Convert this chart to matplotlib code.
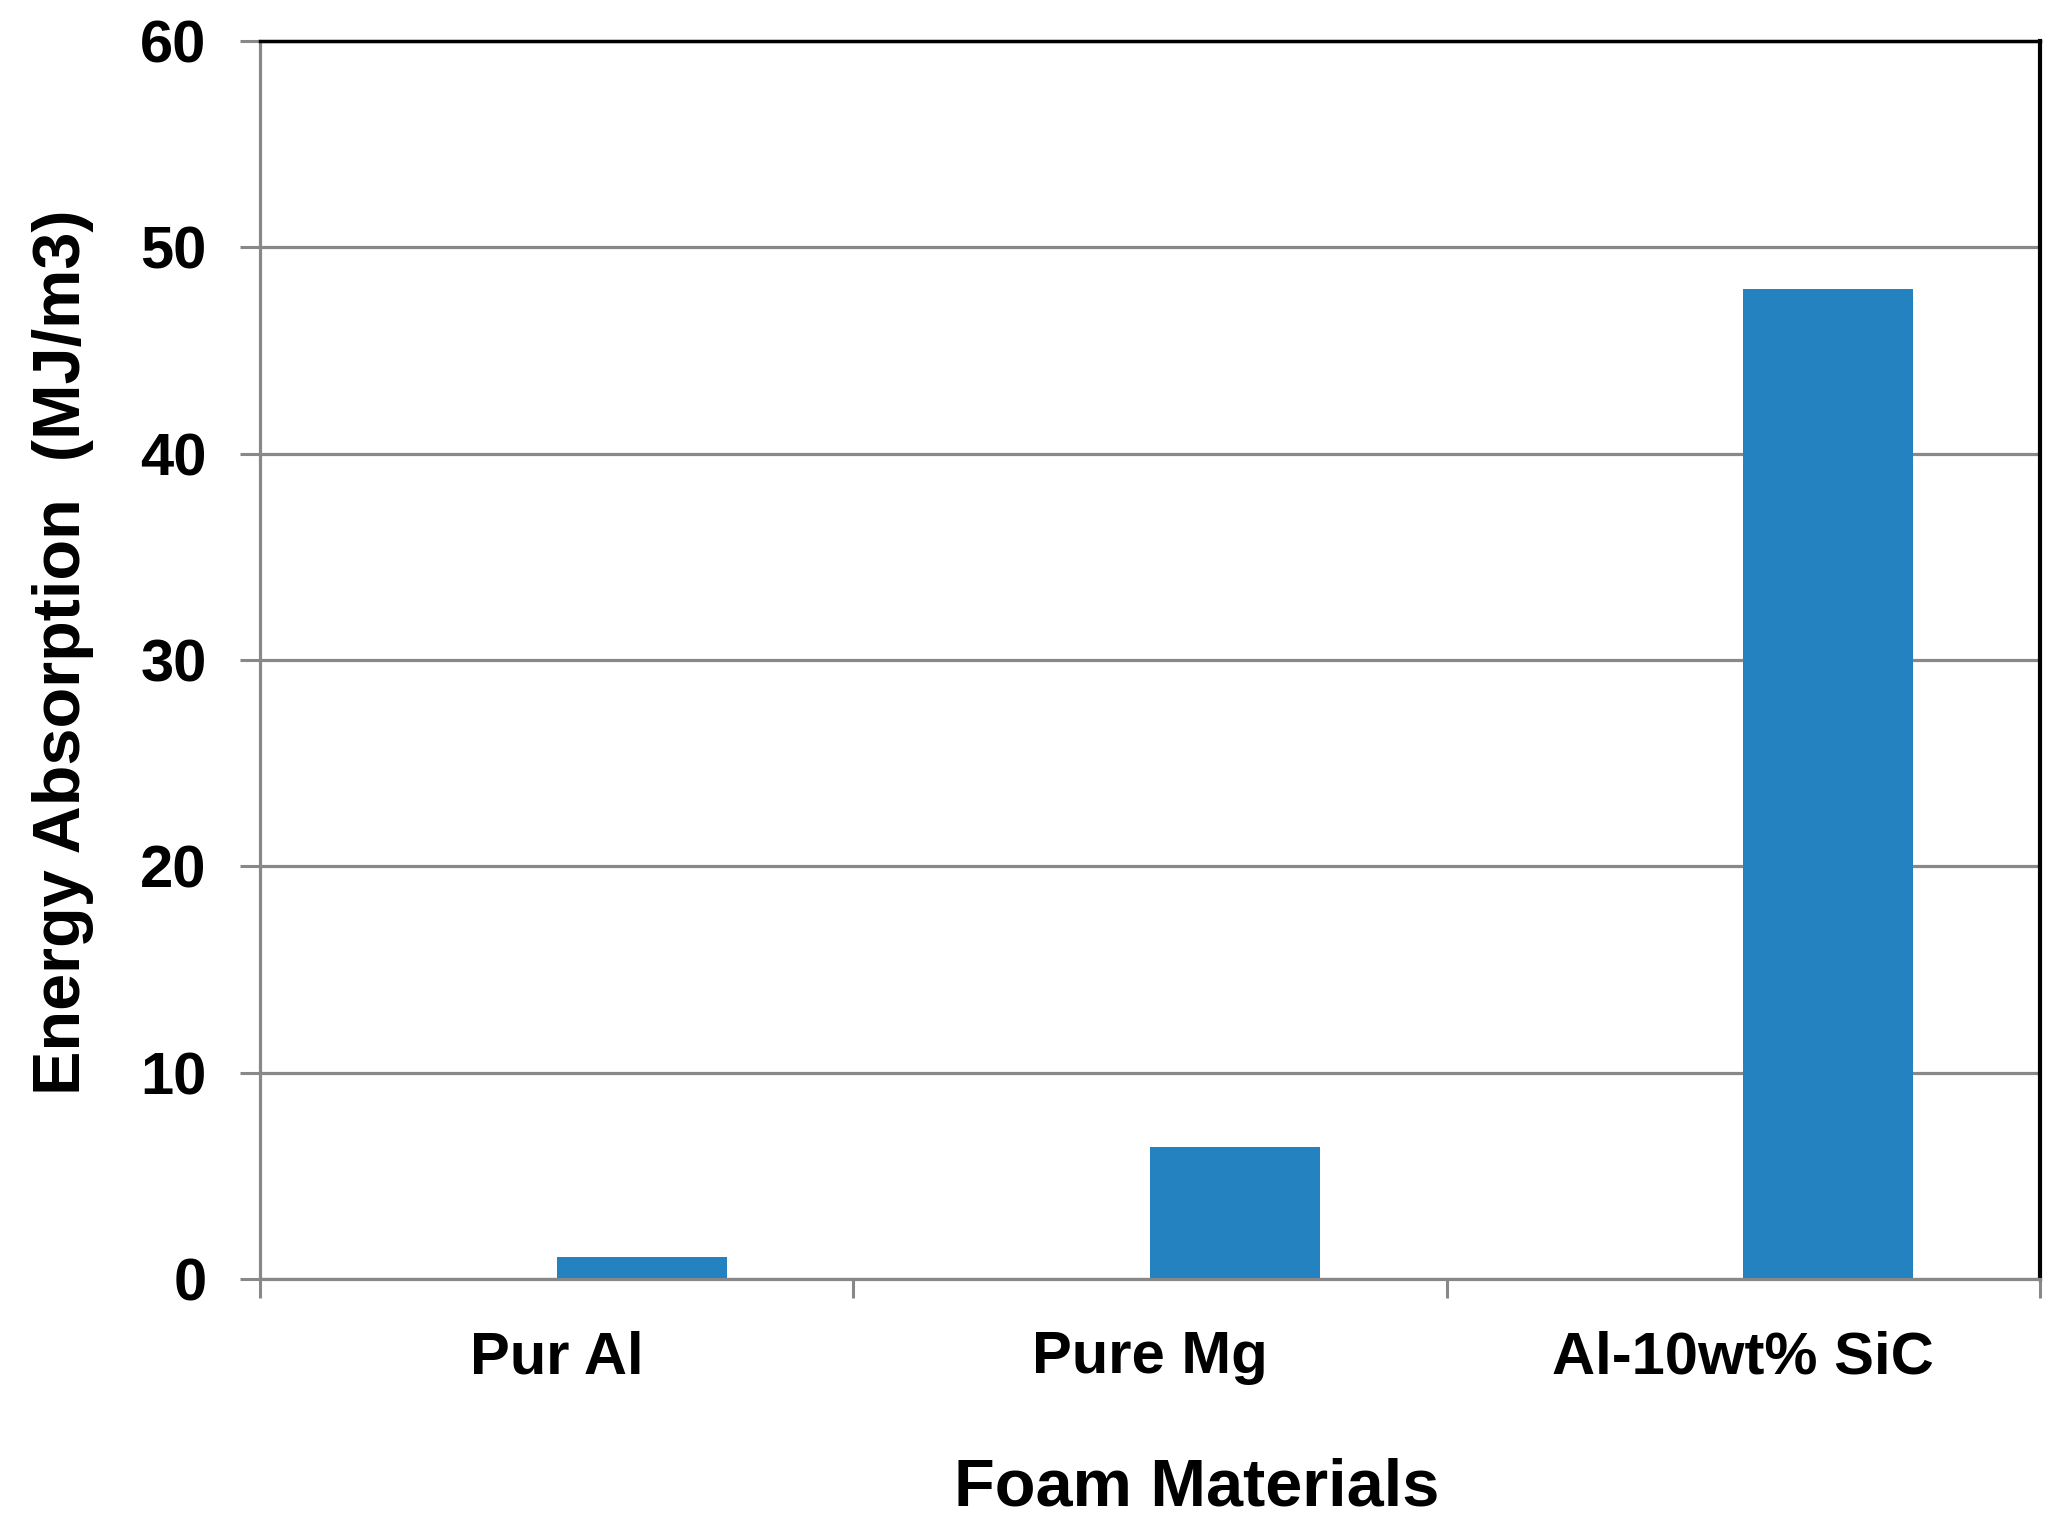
import matplotlib
matplotlib.use("Agg")
import matplotlib.pyplot as plt
import numpy as np

materiales = ["Pur Al", "Pure Mg", "Al-10wt% SiC"]
energia = [1.05, 6.4, 48.0]
y_ticks = [0, 10, 20, 30, 40, 50, 60]

plt.rcParams["font.family"] = ["Liberation Sans", "DejaVu Sans"]
plt.rcParams["font.weight"] = "bold"

gris = "#888888"
azul = "#2482C0"

fig = plt.figure(figsize=(20.63, 15.33), dpi=100)
ax = fig.add_axes([260 / 2063, 1 - 1279 / 1533, 1780 / 2063, 1238 / 1533])

x = np.arange(len(materiales))
# barra desplazada a la derecha del centro de la categoria (estilo Excel)
ax.bar(x, energia, width=0.2866, align="edge", color=azul, zorder=3)

ax.set_xlim(-0.5, len(materiales) - 0.5)
ax.set_ylim(0, 60)
ax.set_yticks(y_ticks)
ax.set_yticklabels([str(v) for v in y_ticks], fontsize=43, fontweight="bold")

# ticks mayores en los bordes de categoria, etiquetas en el centro
ax.set_xticks(np.arange(len(materiales) + 1) - 0.5)
ax.set_xticklabels([])
ax.set_xticks(x, minor=True)
ax.set_xticklabels(materiales, minor=True, fontsize=43, fontweight="bold")
ax.tick_params(axis="x", which="major", direction="out", length=13.7, width=2.2, color=gris)
ax.tick_params(axis="x", which="minor", length=0, pad=37)
ax.tick_params(axis="y", direction="out", length=14.4, width=2.2, color=gris, pad=24)

ax.grid(axis="y", color=gris, linewidth=2.3, zorder=1)
for lado in ("left", "bottom"):
    ax.spines[lado].set_color(gris)
    ax.spines[lado].set_linewidth(2.3)
ax.spines["bottom"].set_zorder(4)
ax.spines["top"].set_color("black")
ax.spines["top"].set_linewidth(2.5)
ax.spines["right"].set_color("black")
ax.spines["right"].set_linewidth(3)

ax.set_xlabel("Foam Materials", fontsize=48, fontweight="bold")
ax.xaxis.set_label_coords((1197 - 260) / 1780, -(1457 - 1279) / 1238)
ax.set_ylabel("Energy Absorption  (MJ/m3)", fontsize=48, fontweight="bold")
ax.yaxis.set_label_coords(-(260 - 94) / 1780, (1279 - 652) / 1238)

fig.savefig("out.png", dpi=100)
